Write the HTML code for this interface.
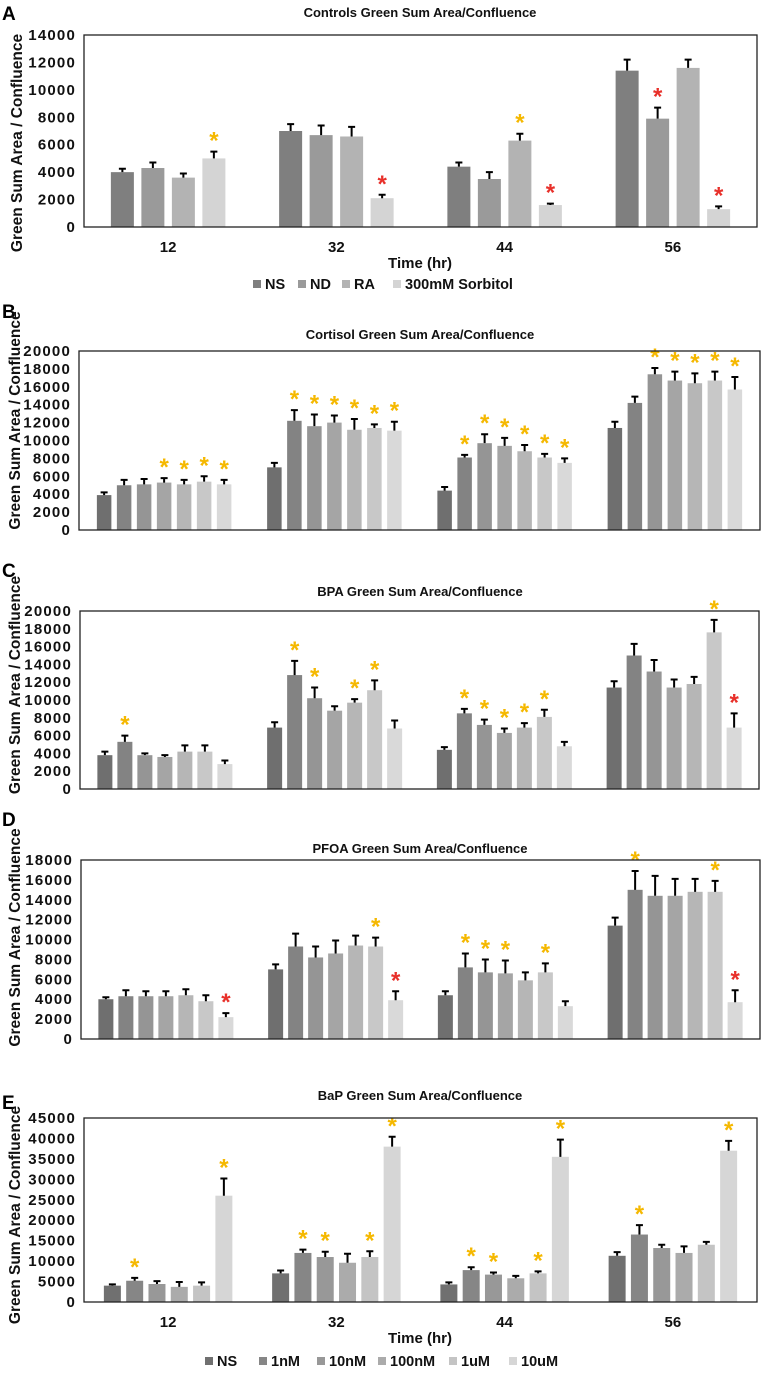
<!DOCTYPE html>
<html><head><meta charset="utf-8"><style>
html,body{margin:0;padding:0;background:#fff;}
svg{display:block;font-family:"Liberation Sans",Arial,sans-serif;font-weight:bold;}
</style></head><body>
<svg id="fig" width="765" height="1375" viewBox="0 0 765 1375" xmlns="http://www.w3.org/2000/svg"></svg>
<script>
const timeLabels = ["12","32","44","56"];
// Panel A: Controls
const aSeries = ["NS","ND","RA","300mM Sorbitol"];
const aVals = [[4000,4300,3600,5000],[7000,6700,6600,2100],[4400,3500,6300,1600],[11400,7900,11600,1300]];
const aErr  = [[250,400,300,500],[500,700,700,250],[300,500,500,100],[800,800,600,200]];
const aSig  = [[0,0,0,1],[0,0,0,2],[0,0,1,2],[0,2,0,2]];
const aTicks = [0,2000,4000,6000,8000,10000,12000,14000];
// Panel B: Cortisol
const bVals = [[3900,5000,5100,5300,5100,5400,5100],[7000,12200,11600,12000,11200,11400,11100],[4400,8100,9700,9400,8800,8100,7500],[11400,14200,17400,16700,16400,16700,15700]];
const bErr  = [[300,600,600,500,500,600,500],[500,1200,1300,800,1200,400,1000],[400,300,1000,900,700,400,500],[700,700,700,1000,1100,1000,1400]];
const bSig  = [[0,0,0,1,1,1,1],[0,1,1,1,1,1,1],[0,1,1,1,1,1,1],[0,0,1,1,1,1,1]];
const bTicks = [0,2000,4000,6000,8000,10000,12000,14000,16000,18000,20000];
// Panel C: BPA
const cVals = [[3800,5300,3800,3600,4200,4200,2800],[6900,12800,10200,8800,9700,11100,6800],[4400,8500,7200,6300,6900,8100,4800],[11400,15000,13200,11400,11800,17600,6900]];
const cErr  = [[400,700,200,200,700,700,400],[600,1600,1200,500,400,1100,900],[300,500,600,500,500,800,500],[700,1300,1300,900,800,1400,1600]];
const cSig  = [[0,1,0,0,0,0,0],[0,1,1,0,1,1,0],[0,1,1,1,1,1,0],[0,0,0,0,0,1,2]];
const cTicks = [0,2000,4000,6000,8000,10000,12000,14000,16000,18000,20000];
// Panel D: PFOA
const dVals = [[4000,4300,4300,4300,4400,3800,2200],[7000,9300,8200,8600,9400,9300,3900],[4400,7200,6700,6600,5900,6700,3300],[11400,15000,14400,14400,14800,14800,3700]];
const dErr  = [[200,600,500,500,600,600,400],[500,1300,1100,1300,1000,900,900],[400,1400,1300,1300,800,900,500],[800,1900,2000,1700,1300,1100,1200]];
const dSig  = [[0,0,0,0,0,0,2],[0,0,0,0,0,1,2],[0,1,1,1,0,1,0],[0,1,0,0,0,1,2]];
const dTicks = [0,2000,4000,6000,8000,10000,12000,14000,16000,18000];
// Panel E: BaP
const eSeries = ["NS","1nM","10nM","100nM","1uM","10uM"];
const eVals = [[4000,5200,4400,3700,4000,26000],[7000,12000,11000,9600,11000,38000],[4300,7800,6700,5800,7000,35500],[11300,16500,13200,12000,14000,37000]];
const eErr  = [[300,700,700,1200,800,4200],[700,800,1300,2200,1400,2400],[500,700,500,600,500,4200],[900,2300,800,1600,700,2400]];
const eSig  = [[0,1,0,0,0,1],[0,1,1,0,1,1],[0,1,1,0,1,1],[0,1,0,0,0,1]];
const eTicks = [0,5000,10000,15000,20000,25000,30000,35000,40000,45000];

const NS="http://www.w3.org/2000/svg";
const svg=document.getElementById('fig');
function mk(tag,attrs,parent){const e=document.createElementNS(NS,tag);for(const k in attrs)e.setAttribute(k,attrs[k]);(parent||svg).appendChild(e);return e;}
function txt(s,attrs,parent){const e=mk('text',attrs,parent);e.textContent=s;return e;}

const gray4=["#7f7f7f","#9a9a9a","#b3b3b3","#d4d4d4"];
const gray6=["#707070","#868686","#989898","#ababab","#c4c4c4","#d6d6d6"];
const gray7=["#6f6f6f","#838383","#959595","#a5a5a5","#b6b6b6","#c8c8c8","#d9d9d9"];

function panel(o){
  const g=mk('g',{});
  
  
  const max=o.ticks[o.ticks.length-1];
  const y=v=>o.bottom-(v/max)*(o.bottom-o.top);
  const band=(o.right-o.left)/timeLabels.length;
  const letter=txt(o.letter,{x:2,y:o.letterY,'font-size':19,fill:'#000'},g);
  
  
  const t=txt(o.title,{x:o.titleX,y:o.titleY,'font-size':13,'text-anchor':'middle',fill:'#111'},g);
  
  
  o.ticks.forEach(tv=>{
    const tl=txt(tv,{x:o.left-8,y:y(tv)+5,'font-size':15,'letter-spacing':1.2,'text-anchor':'end',fill:'#111'},g);
    
    
  });
  const yt=txt('Green Sum Area / Confluence',{x:0,y:0,'font-size':15.5,'text-anchor':'middle',fill:'#111',transform:`translate(${o.ytX},${(o.top+o.bottom)/2+o.ytShift}) rotate(-90)`},g);
  
  
  const n=o.vals[0].length;
  o.vals.forEach((grp,gi)=>{
    const c=o.left+band*(gi+0.5);
    grp.forEach((v,si)=>{
      const x=c+(si-(n-1)/2)*o.pitch-o.bw/2;
      const r=mk('rect',{x:x,y:y(v),width:o.bw,height:o.bottom-y(v),fill:o.colors[si]},g);
      
      
      const et=y(v+o.err[gi][si]);
      const cx=x+o.bw/2;
      const e=mk('path',{d:`M${cx} ${y(v)}V${et}M${cx-3.5} ${et}H${cx+3.5}`,stroke:'#000','stroke-width':2,fill:'none'},g);
      
      
      const s=o.sig[gi][si];
      if(s){
        const a=txt('*',{x:cx,y:et-3,'font-size':24,'text-anchor':'middle',fill:s===1?'#f5b800':'#e8302a'},g);
        
        
      }
    });
    if(o.xlabels){
      const xl=txt(timeLabels[gi],{x:c,y:o.bottom+25,'font-size':15,'text-anchor':'middle',fill:'#111'},g);
      
      
    }
  });
  const fr=mk('rect',{x:o.left,y:o.top,width:o.right-o.left,height:o.bottom-o.top,fill:'none',stroke:'#222','stroke-width':1.3},g);
  
  
  return g;
}

panel({name:'panel-a-controls',letter:'A',letterY:20,title:'Controls Green Sum Area/Confluence',titleX:420,titleY:17,left:84,right:757,top:35,bottom:227,ticks:aTicks,vals:aVals,err:aErr,sig:aSig,colors:gray4,pitch:30.5,bw:23,xlabels:true,ytX:22,ytShift:12});
panel({name:'panel-b-cortisol',letter:'B',letterY:318,title:'Cortisol Green Sum Area/Confluence',titleX:420,titleY:339,left:79,right:760,top:351,bottom:530,ticks:bTicks,vals:bVals,err:bErr,sig:bSig,colors:gray7,pitch:20,bw:14.5,xlabels:false,ytX:20,ytShift:-20});
panel({name:'panel-c-bpa',letter:'C',letterY:577,title:'BPA Green Sum Area/Confluence',titleX:420,titleY:596,left:80,right:759,top:611,bottom:789,ticks:cTicks,vals:cVals,err:cErr,sig:cSig,colors:gray7,pitch:20,bw:15,xlabels:false,ytX:20,ytShift:-15});
panel({name:'panel-d-pfoa',letter:'D',letterY:826,title:'PFOA Green Sum Area/Confluence',titleX:420,titleY:853,left:81,right:760,top:860,bottom:1039,ticks:dTicks,vals:dVals,err:dErr,sig:dSig,colors:gray7,pitch:20,bw:15,xlabels:false,ytX:20,ytShift:-12});
panel({name:'panel-e-bap',letter:'E',letterY:1109,title:'BaP Green Sum Area/Confluence',titleX:420,titleY:1100,left:84,right:757,top:1118,bottom:1302,ticks:eTicks,vals:eVals,err:eErr,sig:eSig,colors:gray6,pitch:22.3,bw:17,xlabels:true,ytX:20,ytShift:5});

// x axis titles
const xa=txt('Time (hr)',{x:420,y:268,'font-size':15,'text-anchor':'middle',fill:'#111'});


const xe=txt('Time (hr)',{x:420,y:1343,'font-size':15,'text-anchor':'middle',fill:'#111'});



// legends
const aLegX=[253,298,342,393];
aSeries.forEach((s,i)=>{
  const g=mk('g',{});
  
  
  mk('rect',{x:aLegX[i],y:280,width:8,height:8,fill:gray4[i]},g);
  txt(s,{x:aLegX[i]+12,y:289,'font-size':14.5,fill:'#111'},g);
});
const eLegX=[205,259,317,378,449,509];
eSeries.forEach((s,i)=>{
  const g=mk('g',{});
  
  
  mk('rect',{x:eLegX[i],y:1357,width:8,height:8,fill:gray6[i]},g);
  txt(s,{x:eLegX[i]+12,y:1366,'font-size':14.5,fill:'#111'},g);
});
</script>
</body></html>
